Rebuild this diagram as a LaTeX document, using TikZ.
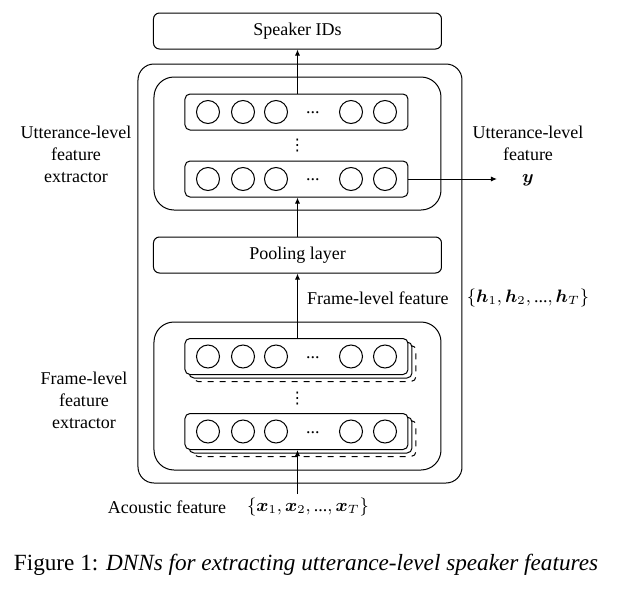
\documentclass[tikz,border=0pt]{standalone}
\usepackage{fontspec}
\usepackage{amsmath,bm}
\setmainfont{Liberation Serif}
\newfontfamily\symfont{DejaVu Sans}
\usetikzlibrary{arrows.meta}

\begin{document}
\begin{tikzpicture}[
        x=0.5pt, y=-0.5pt, line width=0.5pt,
        every node/.style={font=\fontsize{9}{11}\selectfont},
        bar/.style={rectangle, draw, rounded corners=3pt, minimum width=144pt, minimum height=18pt},
        layer/.style={rectangle, draw, fill=white, rounded corners=2.5pt, minimum width=111.5pt, minimum height=18pt},
        unit/.style={circle, draw, minimum size=11.5pt, inner sep=0pt},
        vdot/.style={inner sep=0pt, font=\symfont\fontsize{8}{8}\selectfont},
        lbl/.style={align=center},
        arr/.style={-{Latex[length=3pt,width=2.5pt]}}
    ]
        \useasboundingbox (0,0) rectangle (618,590);

        % outer frame and the two extractors
        \draw[rounded corners=8pt] (138,64) rectangle (462,483);
        \draw[rounded corners=10pt] (154,77) rectangle (441,210);
        \draw[rounded corners=10pt] (154,322) rectangle (441,470);

        \node[bar] (spk) at (297.5,31) {Speaker IDs};
        \node[bar] (pool) at (297.5,255) {Pooling layer};

        % shadows behind the frame-level layers
        \foreach \y in {356.5,431.5} {
            \node[layer, dashed] at (304.5,\y+7) {};
            \node[layer] at (300.5,\y+3.5) {};
        }

        % layers with their units
        \foreach \n/\y in {utop/112, ubot/179, ftop/356.5, fbot/431.5} {
            \node[layer] (\n) at (296.5,\y) {};
            \foreach \dx in {-88.5,-53.5,-20.5,54.5,88.5}
                \node[unit] at (296.5+\dx,\y) {};
            \node[inner sep=0pt] at (313,\y+1) {...};
        }
        \node[vdot] (udots) at (297.5,146) {⋮};
        \node[vdot] (fdots) at (297.5,399) {⋮};

        % connectors
        \coordinate (yout) at (497,179);
        \coordinate (xin) at (297.5,494);
        \draw[arr] (utop.north -| spk) -- (spk.south);
        \draw[arr] (pool.north) -- (ubot.south -| pool);
        \draw[arr] (ftop.north -| pool) -- (pool.south);
        \draw[arr] (xin) -- (fbot.south -| xin);
        \draw[arr] (ubot.east) -- (yout);

        % labels
        \node[lbl] (ulbl) at (76,154) {Utterance-level\\feature\\extractor};
        \node[lbl] (flbl) at (84,400) {Frame-level\\feature\\extractor};
        \node[lbl] (ylbl) at (528,156) {Utterance-level\\feature\\$\bm{y}$};
        \node[anchor=west] (flv) at (300,298) {Frame-level feature};
        \node (hset) at (528,298) {$\{\bm{h}_1,\bm{h}_2,\text{...},\bm{h}_T\}$};
        \node (ac) at (167,507) {Acoustic feature};
        \node (xset) at (308,507) {$\{\bm{x}_1,\bm{x}_2,\text{...},\bm{x}_T\}$};

        \node[font=\fontsize{11.6}{13}\selectfont] (cap) at (306,565) {Figure 1: \textit{DNNs for extracting utterance-level speaker features}};
    \end{tikzpicture}
\end{document}
